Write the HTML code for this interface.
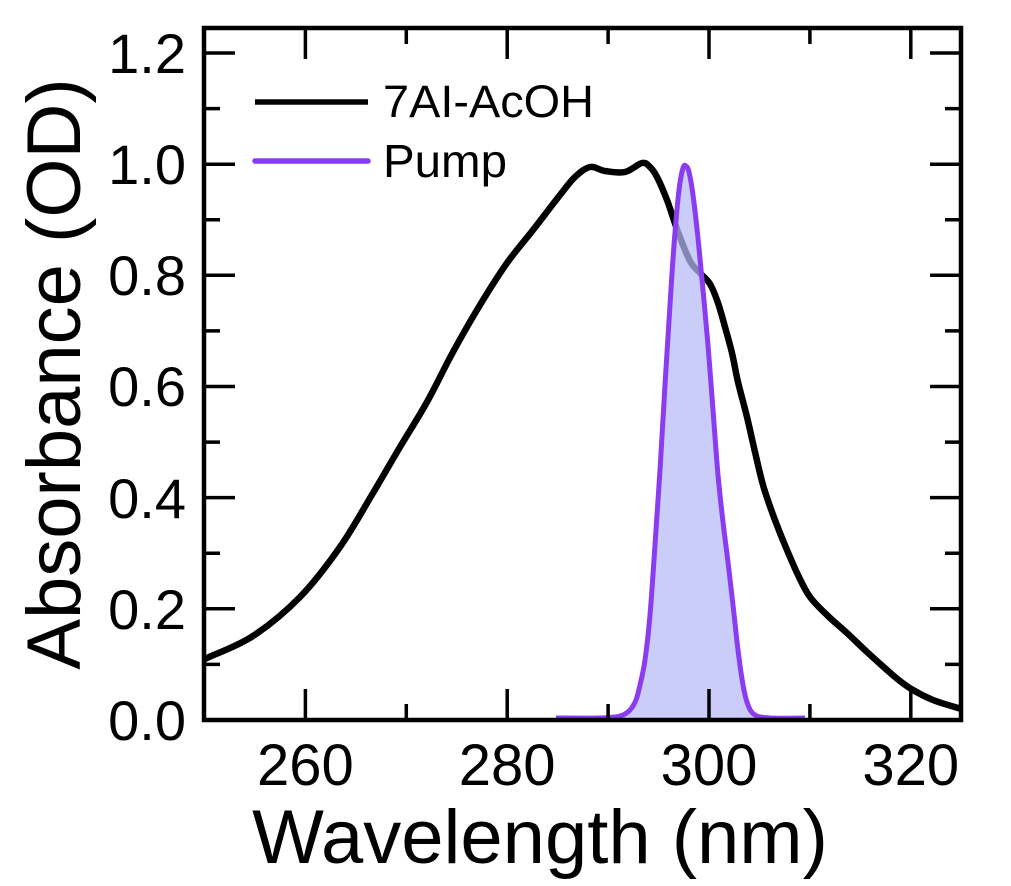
<!DOCTYPE html>
<html><head><meta charset="utf-8"><style>
html,body{margin:0;padding:0;background:#fff;}
svg{display:block;}
text{font-family:"Liberation Sans",Arial,sans-serif;fill:#000;}
</style></head><body>
<svg width="1011" height="886" viewBox="0 0 1011 886" xmlns="http://www.w3.org/2000/svg">
<rect width="1011" height="886" fill="#fff"/>
<defs><clipPath id="c"><rect x="204" y="28" width="757" height="692"/></clipPath></defs>
<g clip-path="url(#c)">
<path id="blk" fill="none" stroke="#000" stroke-width="6.5" stroke-linejoin="round" stroke-linecap="round" d="M190,666 L207,658 L253,636 L300,597 L340,547 L373,493 L400,447 L427,402 L453,352 L480,305 L507,263 L533,230 L560,195 L575,177 L590,167 L605,171 L625,172 L642,163 L650,167 L657,177 L667,200 L678,232 L690,261 L700,273 L710,284 L718,303 L725,327 L732,353 L738,382 L747,417 L755,452 L763,485 L772,512 L780,533 L787,550 L798,575 L810,597 L828,616 L847,633 L867,652 L887,670 L900,681 L913,690 L933,700 L958,708 L966,710"/>
<path id="pfill" fill="rgb(180,186,245)" fill-opacity="0.72" stroke="none" d="M600,718 L615,717 L623,715 L630,710 L636,700 L640,685 L645,660 L650,615 L655,545 L660,470 L665,385 L670,305 L674,245 L679,190 L683,168 L686,166 L689,172 L693,195 L698,238 L703,290 L708,345 L713,410 L718,475 L723,522 L728,562 L733,605 L738,650 L743,685 L748,705 L755,715 L770,718 Z"/>
<path id="pline" fill="none" stroke="#8b3cf0" stroke-width="5" stroke-linejoin="round" d="M556,718 L600,718 L615,717 L623,715 L630,710 L636,700 L640,685 L645,660 L650,615 L655,545 L660,470 L665,385 L670,305 L674,245 L679,190 L683,168 L686,166 L689,172 L693,195 L698,238 L703,290 L708,345 L713,410 L718,475 L723,522 L728,562 L733,605 L738,650 L743,685 L748,705 L755,715 L770,718 L805,718"/>
</g>
<!-- frame -->
<rect x="204" y="28" width="757" height="692" fill="none" stroke="#000" stroke-width="4.5"/>
<!-- ticks -->
<g stroke="#000" stroke-width="3.5">
<path d="M305.4,720V689 M507.2,720V689 M709,720V689 M910.8,720V689"/>
<path d="M305.4,28V59 M507.2,28V59 M709,28V59 M910.8,28V59"/>
<path d="M406.3,720V704 M608.1,720V704 M809.9,720V704"/>
<path d="M406.3,28V44 M608.1,28V44 M809.9,28V44"/>
<path d="M204,608.8H235 M204,497.6H235 M204,386.5H235 M204,275.3H235 M204,164.2H235 M204,53H235"/>
<path d="M961,608.8H930 M961,497.6H930 M961,386.5H930 M961,275.3H930 M961,164.2H930 M961,53H930"/>
<path d="M204,664.4H220 M204,553.2H220 M204,442.1H220 M204,330.9H220 M204,219.8H220 M204,108.6H220"/>
<path d="M961,664.4H945 M961,553.2H945 M961,442.1H945 M961,330.9H945 M961,219.8H945 M961,108.6H945"/>
</g>
<!-- y tick labels -->
<g font-size="56" text-anchor="end">
<text x="186" y="740">0.0</text>
<text x="186" y="629">0.2</text>
<text x="186" y="518">0.4</text>
<text x="186" y="406">0.6</text>
<text x="186" y="295">0.8</text>
<text x="186" y="184">1.0</text>
<text x="186" y="73">1.2</text>
</g>
<!-- x tick labels -->
<g font-size="58" text-anchor="middle">
<text x="305.4" y="785">260</text>
<text x="507.2" y="785">280</text>
<text x="709" y="785">300</text>
<text x="910.8" y="785">320</text>
</g>
<!-- axis titles -->
<text x="540" y="863" font-size="76" text-anchor="middle">Wavelength (nm)</text>
<text transform="translate(80,374) rotate(-90)" font-size="76" text-anchor="middle">Absorbance (OD)</text>
<!-- legend -->
<path d="M255,102H368" stroke="#000" stroke-width="5.5"/>
<path d="M255,161H368" stroke="#8b3cf0" stroke-width="5.5" stroke-linecap="round"/>
<text x="383" y="117" font-size="45" textLength="211" lengthAdjust="spacingAndGlyphs">7AI-AcOH</text>
<text x="383" y="177" font-size="46" textLength="124" lengthAdjust="spacingAndGlyphs">Pump</text>
</svg>
<script>
(function(){
function pts(d){var a=d.match(/-?[\d.]+/g).map(Number),r=[];for(var i=0;i+1<a.length;i+=2)r.push([a[i],a[i+1]]);return r;}
function smooth(p,close){
  var s="M"+p[0][0]+","+p[0][1];
  for(var i=0;i<p.length-1;i++){
    var p0=p[i>0?i-1:i],p1=p[i],p2=p[i+1],p3=p[i+2<p.length?i+2:i+1];
    var c1x=p1[0]+(p2[0]-p0[0])/6,c1y=p1[1]+(p2[1]-p0[1])/6;
    var c2x=p2[0]-(p3[0]-p1[0])/6,c2y=p2[1]-(p3[1]-p1[1])/6;
    s+=" C"+c1x.toFixed(2)+","+c1y.toFixed(2)+" "+c2x.toFixed(2)+","+c2y.toFixed(2)+" "+p2[0]+","+p2[1];
  }
  if(close)s+=" Z";
  return s;
}
["blk","pline"].forEach(function(id){var e=document.getElementById(id);e.setAttribute("d",smooth(pts(e.getAttribute("d")),false));});
var f=document.getElementById("pfill");f.setAttribute("d",smooth(pts(f.getAttribute("d")),true));
})();
</script>
</body></html>
